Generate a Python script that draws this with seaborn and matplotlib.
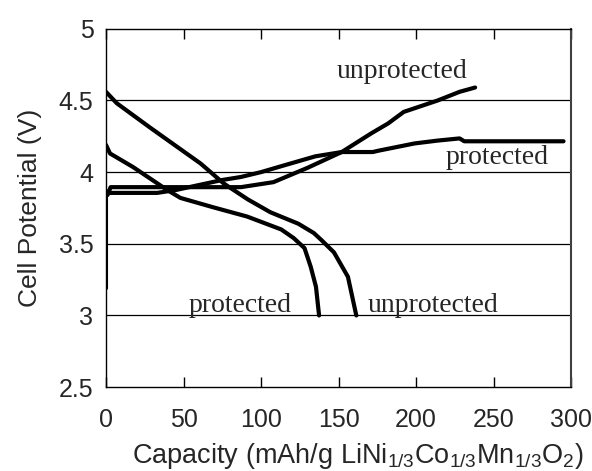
"""
Cell potential vs capacity, protected / unprotected cathode
"""
import pandas as pd
import numpy as np
import seaborn as sns
import matplotlib.pyplot as plt

# charge curves
prot_charge_x = [0, 0, 1, 3, 20, 33, 45, 60, 75, 87, 100, 119, 135, 152, 172, 176, 199, 214, 228, 231, 260, 295]
prot_charge_y = [3.19, 3.86, 3.865, 3.855, 3.855, 3.855, 3.875, 3.91, 3.945, 3.966, 4.0, 4.06, 4.11, 4.14, 4.14, 4.15, 4.20, 4.22, 4.235, 4.215, 4.215, 4.215]
unprot_charge_x = [1, 3, 10, 30, 60, 87, 108, 130, 152, 171, 182, 192, 214, 228, 238]
unprot_charge_y = [3.84, 3.895, 3.895, 3.895, 3.895, 3.895, 3.93, 4.03, 4.14, 4.27, 4.34, 4.42, 4.50, 4.56, 4.59]

# discharge curves
prot_dis_x = [0, 2.6, 17.5, 39.5, 48, 69, 91, 113, 121, 128, 132, 135.4, 137.4]
prot_dis_y = [4.19, 4.13, 4.035, 3.875, 3.82, 3.755, 3.69, 3.60, 3.54, 3.47, 3.34, 3.20, 3.0]
unprot_dis_x = [0, 7, 28.5, 61, 76, 91.4, 106, 124, 134, 139, 147, 156, 161.4]
unprot_dis_y = [4.56, 4.48, 4.31, 4.06, 3.92, 3.81, 3.72, 3.64, 3.575, 3.525, 3.44, 3.27, 3.0]

labels = ["unprotected", "protected", "protected", "unprotected"]
label_x = [191, 252, 86.5, 211]
label_y = [4.70, 4.105, 3.07, 3.07]

x_ticks = [0, 50, 100, 150, 200, 250, 300]
y_ticks = [2.5, 3, 3.5, 4, 4.5, 5]


def main():
    sns.set_style("white")
    plt.rcParams['font.family'] = ['Liberation Sans', 'DejaVu Sans']
    plt.rcParams['mathtext.fontset'] = 'custom'
    plt.rcParams['mathtext.rm'] = 'Liberation Sans'
    plt.rcParams['mathtext.it'] = 'Liberation Sans'

    fig = plt.figure(figsize=(5.92, 4.71), dpi=100)
    ax = fig.add_axes([0.179, 0.178, 0.786, 0.761])

    for yv in [3, 3.5, 4, 4.5]:
        ax.axhline(yv, color='black', lw=0.9, zorder=1)

    curves = [(prot_charge_x, prot_charge_y), (unprot_charge_x, unprot_charge_y),
              (prot_dis_x, prot_dis_y), (unprot_dis_x, unprot_dis_y)]
    for cx, cy in curves:
        df = pd.DataFrame({'cap': cx, 'v': cy})
        sns.lineplot(df, x='cap', y='v', sort=False, estimator=None,
                     color='black', lw=3, ax=ax, zorder=3)

    for txt, tx, ty in zip(labels, label_x, label_y):
        ax.text(tx, ty, txt, ha='center', va='center', fontsize=20,
                family=['Liberation Serif', 'DejaVu Serif'], zorder=4)

    ax.set_xlim(0, 300)
    ax.set_ylim(2.5, 5)
    ax.set_xticks(x_ticks)
    ax.set_yticks(y_ticks)
    ax.set_yticklabels([f"{t:g}" for t in y_ticks])
    ax.tick_params(axis='x', direction='in', length=7, width=1, top=True,
                   bottom=True, pad=15, labelsize=18, color='black')
    ax.tick_params(axis='y', length=0, pad=9, labelsize=18)

    for side, sp in ax.spines.items():
        sp.set_color('black')
        sp.set_linewidth(1)
    ax.spines['right'].set_color('#404040')
    ax.spines['right'].set_linewidth(1.5)

    ax.set_xlabel("Capacity (mAh/g LiNi$_{1/3}$Co$_{1/3}$Mn$_{1/3}$O$_2$)",
                  fontsize=19.5)
    ax.xaxis.set_label_coords(0.54, -0.15)
    ax.set_ylabel("Cell Potential (V)", fontsize=19, labelpad=12)

    fig.savefig("out.png", dpi=100)


if __name__ == "__main__":
    main()
